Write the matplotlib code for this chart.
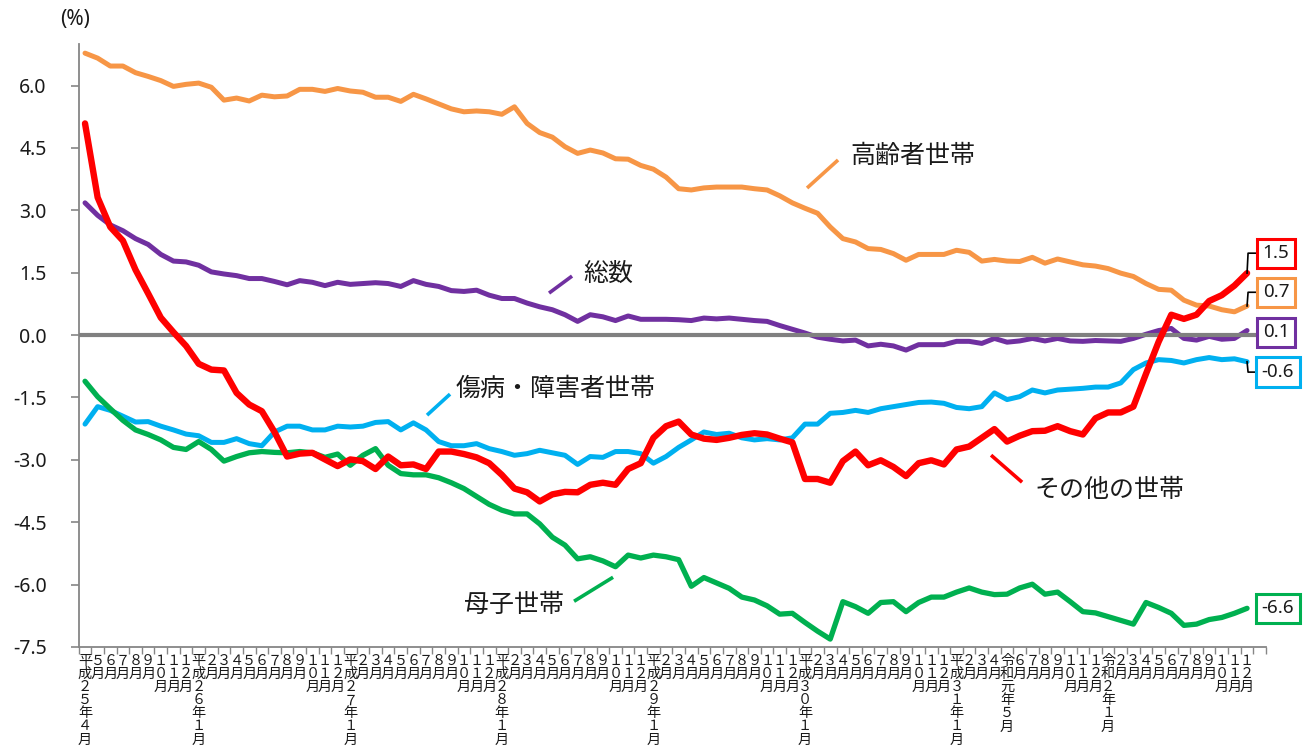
import matplotlib
matplotlib.use("Agg")
import matplotlib.pyplot as plt
import numpy as np
from matplotlib.transforms import blended_transform_factory

plt.rcParams['font.family'] = ['Noto Sans CJK JP', 'DejaVu Sans']

# ---------------- data ----------------
months = (
    ["平成25年4月", "5月", "6月", "7月", "8月", "9月", "10月", "11月", "12月"]
    + ["平成26年1月", "2月", "3月", "4月", "5月", "6月", "7月", "8月", "9月", "10月", "11月", "12月"]
    + ["平成27年1月", "2月", "3月", "4月", "5月", "6月", "7月", "8月", "9月", "10月", "11月", "12月"]
    + ["平成28年1月", "2月", "3月", "4月", "5月", "6月", "7月", "8月", "9月", "10月", "11月", "12月"]
    + ["平成29年1月", "2月", "3月", "4月", "5月", "6月", "7月", "8月", "9月", "10月", "11月", "12月"]
    + ["平成30年1月", "2月", "3月", "4月", "5月", "6月", "7月", "8月", "9月", "10月", "11月", "12月"]
    + ["平成31年1月", "2月", "3月", "4月", "令和元年5月", "6月", "7月", "8月", "9月", "10月", "11月", "12月"]
    + ["令和2年1月", "2月", "3月", "4月", "5月", "6月", "7月", "8月", "9月", "10月", "11月", "12月"]
)

elderly = [6.78, 6.66, 6.47, 6.47, 6.31, 6.22, 6.12, 5.98, 6.03, 6.06, 5.96, 5.65, 5.70, 5.63, 5.77, 5.73,
           5.75, 5.91, 5.91, 5.86, 5.93, 5.87, 5.84, 5.72,
           5.72, 5.62, 5.79, 5.68, 5.56, 5.44, 5.37, 5.39, 5.37, 5.31, 5.49, 5.09, 4.87, 4.76, 4.53, 4.37,
           4.45, 4.38, 4.24, 4.23, 4.08, 3.99, 3.80,
           3.52, 3.49, 3.54, 3.56, 3.56, 3.56, 3.52, 3.49, 3.35, 3.18, 3.05, 2.93, 2.60, 2.32, 2.24, 2.08,
           2.06, 1.96, 1.80, 1.94, 1.94, 1.94, 2.04,
           1.99, 1.78, 1.82, 1.78, 1.77, 1.87, 1.73, 1.83, 1.76, 1.69, 1.66, 1.60, 1.49, 1.41, 1.24, 1.10,
           1.08, 0.84, 0.72, 0.70, 0.61, 0.56, 0.70]

total = [3.18, 2.88, 2.65, 2.51, 2.32, 2.18, 1.94, 1.78, 1.76, 1.68, 1.52, 1.47, 1.43, 1.36, 1.36, 1.29,
         1.21, 1.31, 1.27, 1.19, 1.27, 1.22, 1.24, 1.26,
         1.24, 1.17, 1.31, 1.22, 1.17, 1.07, 1.05, 1.08, 0.96, 0.88, 0.88, 0.77, 0.68, 0.61, 0.49, 0.33,
         0.49, 0.44, 0.35, 0.46, 0.38, 0.38, 0.38,
         0.37, 0.35, 0.41, 0.39, 0.41, 0.38, 0.35, 0.33, 0.23, 0.14, 0.05, -0.05, -0.10, -0.14, -0.12, -0.26,
         -0.22, -0.26, -0.36, -0.23, -0.23, -0.23, -0.15,
         -0.15, -0.20, -0.08, -0.17, -0.14, -0.08, -0.14, -0.08, -0.14, -0.15, -0.13, -0.14, -0.15, -0.08,
         0.02, 0.11, 0.16, -0.08, -0.12, -0.03, -0.10, -0.08, 0.11]

disabled = [-2.14, -1.72, -1.81, -1.95, -2.09, -2.08, -2.19, -2.28, -2.38, -2.42, -2.58, -2.58, -2.49, -2.61,
            -2.66, -2.33, -2.19, -2.19, -2.28, -2.28, -2.19, -2.21, -2.19, -2.10,
            -2.08, -2.28, -2.11, -2.28, -2.56, -2.66, -2.66, -2.61, -2.73, -2.80, -2.89, -2.85, -2.77, -2.83,
            -2.89, -3.11, -2.92, -2.94, -2.80, -2.80, -2.85, -3.08, -2.92,
            -2.70, -2.52, -2.33, -2.39, -2.36, -2.47, -2.52, -2.49, -2.52, -2.47, -2.14, -2.14, -1.88, -1.86,
            -1.81, -1.86, -1.77, -1.72, -1.67, -1.62, -1.61, -1.64, -1.74,
            -1.77, -1.72, -1.39, -1.55, -1.48, -1.32, -1.39, -1.32, -1.30, -1.28, -1.25, -1.25, -1.15, -0.83,
            -0.67, -0.59, -0.61, -0.67, -0.59, -0.54, -0.59, -0.57, -0.64]

other = [5.09, 3.31, 2.60, 2.27, 1.57, 1.00, 0.42, 0.07, -0.26, -0.69, -0.83, -0.85, -1.39, -1.67, -1.83,
         -2.33, -2.92, -2.85, -2.83, -2.99, -3.15, -2.99, -3.03, -3.22,
         -2.92, -3.13, -3.11, -3.22, -2.80, -2.80, -2.86, -2.94, -3.08, -3.36, -3.69, -3.78, -4.00, -3.83,
         -3.77, -3.78, -3.60, -3.55, -3.60, -3.22, -3.08, -2.47, -2.19,
         -2.08, -2.39, -2.49, -2.52, -2.47, -2.40, -2.36, -2.39, -2.49, -2.58, -3.46, -3.46, -3.55, -3.03,
         -2.80, -3.13, -3.01, -3.17, -3.39, -3.08, -3.01, -3.11, -2.75,
         -2.68, -2.47, -2.26, -2.56, -2.42, -2.31, -2.30, -2.19, -2.31, -2.39, -2.00, -1.86, -1.86, -1.72,
         -0.93, -0.16, 0.49, 0.39, 0.49, 0.82, 0.96, 1.19, 1.49]

single_mother = [-1.11, -1.48, -1.77, -2.05, -2.28, -2.39, -2.52, -2.70, -2.75, -2.56, -2.75, -3.03, -2.92,
                 -2.83, -2.80, -2.82, -2.83, -2.80, -2.83, -2.94, -2.86, -3.13, -2.89, -2.73,
                 -3.13, -3.33, -3.36, -3.36, -3.43, -3.55, -3.69, -3.88, -4.07, -4.21, -4.30, -4.30, -4.54,
                 -4.86, -5.05, -5.38, -5.33, -5.43, -5.57, -5.29, -5.36, -5.29, -5.33,
                 -5.40, -6.04, -5.83, -5.96, -6.09, -6.30, -6.37, -6.51, -6.71, -6.69, -6.91, -7.12, -7.31,
                 -6.41, -6.53, -6.69, -6.43, -6.41, -6.65, -6.43, -6.30, -6.30, -6.18,
                 -6.08, -6.18, -6.24, -6.23, -6.08, -5.99, -6.23, -6.18, -6.41, -6.65, -6.68, -6.77, -6.86,
                 -6.95, -6.43, -6.55, -6.69, -6.98, -6.95, -6.84, -6.79, -6.69, -6.57]

series_names = ["総数", "高齢者世帯", "母子世帯", "傷病・障害者世帯", "その他の世帯"]
yticks = [-7.5, -6.0, -4.5, -3.0, -1.5, 0.0, 1.5, 3.0, 4.5, 6.0]

# ---------------- style ----------------
C_ORANGE = '#F79646'
C_RED = '#FF0000'
C_PURPLE = '#7030A0'
C_BLUE = '#00B0F0'
C_GREEN = '#00B050'
C_AXIS = '#868686'
C_TEXT = '#1a1a1a'
NUM_FONT = ['Noto Sans', 'DejaVu Sans']
FULLWIDTH = str.maketrans("0123456789", "０１２３４５６７８９")

W, H = 1306, 751
fig = plt.figure(figsize=(W / 100, H / 100), dpi=100)
ax = fig.add_axes([78.7 / W, 1 - 647 / H, (1266 - 78.7) / W, (647 - 44) / H])

x = np.arange(len(months))
ax.set_xlim(-0.5, len(months) + 0.5)
ax.set_ylim(-7.5, 7.0)

line_kw = dict(solid_joinstyle='round', solid_capstyle='round')
ax.plot(x, total, color=C_PURPLE, lw=3.6, zorder=3, **line_kw)
ax.axhline(0, color='#808080', lw=3.0, zorder=4)
ax.plot(x, disabled, color=C_BLUE, lw=3.6, zorder=5, **line_kw)
ax.plot(x, single_mother, color=C_GREEN, lw=3.8, zorder=5, **line_kw)
ax.plot(x, elderly, color=C_ORANGE, lw=3.6, zorder=6, **line_kw)
ax.plot(x, other, color=C_RED, lw=4.6, zorder=7, **line_kw)

# axes styling
for s in ['top', 'right']:
    ax.spines[s].set_visible(False)
for s in ['left', 'bottom']:
    ax.spines[s].set_color(C_AXIS)
    ax.spines[s].set_linewidth(1.3)

ax.set_yticks(yticks)
ax.set_yticklabels([f"{v:.1f}" for v in yticks], fontsize=14, color=C_TEXT, family=NUM_FONT)
ax.tick_params(axis='y', length=6, width=1.2, color=C_AXIS, pad=17)

ax.set_xticks(np.arange(-0.5, len(months) + 0.51, 1))
ax.set_xticklabels([])
ax.tick_params(axis='x', length=5, width=1.0, color=C_AXIS)

# vertical (stacked) month labels
trans = blended_transform_factory(ax.transData, fig.transFigure)
pitch = 13.1
first = 661
for i, lab in enumerate(months):
    for k, ch in enumerate(lab.translate(FULLWIDTH)):
        ax.text(i, 1 - (first + k * pitch) / H, ch, transform=trans, ha='center', va='center',
                fontsize=10.2, color=C_TEXT, clip_on=False)

fig.text(75 / W, 1 - 20 / H, "(%)", ha='center', va='center', fontsize=15, color=C_TEXT,
         family=NUM_FONT)

# series name labels with short pointer strokes
def px(xp, yp):
    return (xp - 85) / 12.63, (335 - yp) / 41.56

labels_layout = [
    ("高齢者世帯", C_ORANGE, (807, 188), (838, 160), (850, 156)),
    ("総数", C_PURPLE, (549, 293), (572, 276), (583, 274)),
    ("傷病・障害者世帯", C_BLUE, (427, 415), (450, 394), (456, 389)),
    ("その他の世帯", C_RED, (991, 455), (1022, 482), (1034, 490)),
    ("母子世帯", C_GREEN, (574, 601), (613, 577), (464, 605)),
]
for name, col, p0, p1, pt in labels_layout:
    a = px(*p0)
    b = px(*p1)
    ax.plot([a[0], b[0]], [a[1], b[1]], color=col, lw=2.6, zorder=8, solid_capstyle='butt')
    t = px(*pt)
    ax.text(t[0], t[1], name, ha='left', va='center', fontsize=18, color=C_TEXT, zorder=9)

# end-value boxes
last = len(months) - 1
end_layout = [
    (other, C_RED, 94.3, 1.97, True),
    (elderly, C_ORANGE, 94.3, 1.03, True),
    (total, C_PURPLE, 94.3, 0.07, False),
    (disabled, C_BLUE, 94.45, -0.89, True),
    (single_mother, C_GREEN, 94.45, -6.57, False),
]
for ser, col, bx, by, leader in end_layout:
    ax.text(bx, by, f"{ser[-1]:.1f}", ha='center', va='center', fontsize=13.5, color=C_TEXT,
            family=NUM_FONT,
            bbox=dict(boxstyle='square,pad=0.3', fc='white', ec=col, lw=2.2), zorder=10, clip_on=False)
    if leader:
        ax.plot([last, last + 0.08, last + 0.72], [ser[-1], by, by], color='black', lw=1.2,
                zorder=9, clip_on=False)

fig.savefig("out.png", dpi=100)
